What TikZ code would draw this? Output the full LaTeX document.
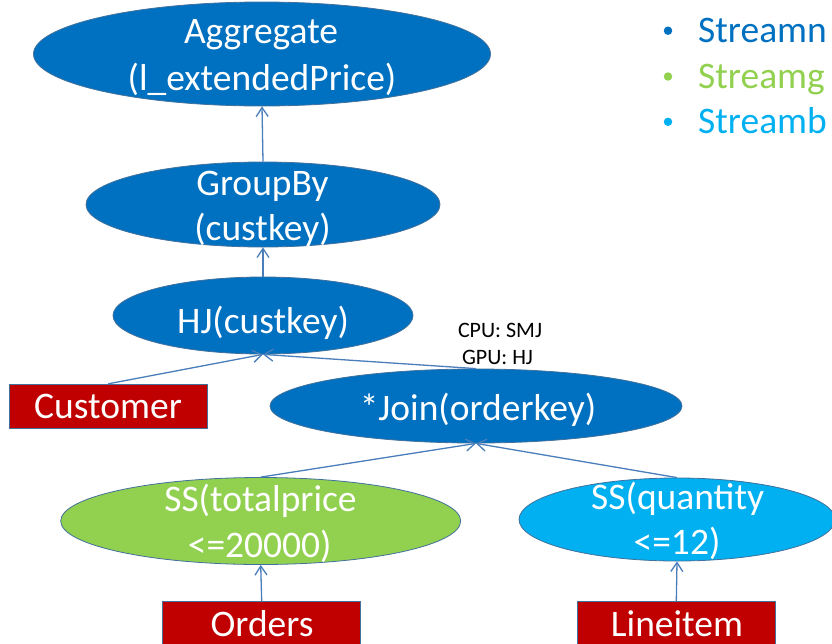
\documentclass[tikz,border=0pt]{standalone}
\usepackage{fontspec}
\setmainfont{Carlito}
\usetikzlibrary{shapes.geometric,arrows.meta}
\definecolor{dblue}{HTML}{0070C0}
\definecolor{lgreen}{HTML}{92D050}
\definecolor{lblue}{HTML}{00B0F0}
\definecolor{dred}{HTML}{C00000}
\definecolor{outl}{HTML}{41719C}
\definecolor{conncol}{HTML}{4A7EBB}
\begin{document}
\begin{tikzpicture}[x=1pt,y=-1pt,
  ell/.style={ellipse, draw=outl, line width=0.8pt, inner sep=0pt},
  box/.style={rectangle, draw=outl, line width=1pt, fill=dred, inner sep=0pt,
              minimum width=198pt, minimum height=44.4pt},
  lbl/.style={text=white, font=\fontsize{37.5}{45}\selectfont, anchor=base, inner sep=0pt},
  small/.style={text=black, font=\fontsize{22}{26}\selectfont, anchor=base, inner sep=0pt},
  leg/.style={font=\fontsize{37.5}{45}\selectfont, anchor=base west, inner sep=0pt},
  dot/.style={circle, inner sep=0pt, minimum size=8.5pt},
  conn/.style={draw=conncol, line width=1.3pt, -{Straight Barb[length=9pt,width=12pt]}}]
\useasboundingbox (0,0) rectangle (832,643);
\clip (0,0) rectangle (832,643);
% shapes
\node[ell, fill=dblue, minimum width=457pt, minimum height=104pt] (agg) at (262,54) {};
\node[ell, fill=dblue, minimum width=354pt, minimum height=85pt] (grp) at (263,204.5) {};
\node[ell, fill=dblue, minimum width=300pt, minimum height=77pt] (hj) at (263,315.5) {};
\node[ell, fill=dblue, minimum width=412pt, minimum height=74pt] (join) at (476,406) {};
\node[ell, fill=lgreen, minimum width=400pt, minimum height=87pt] (ssg) at (260.7,521) {};
\node[ell, fill=lblue, minimum width=316pt, minimum height=83pt] (ssb) at (677,519.5) {};
\node[box] (cust) at (108.3,406.5) {};
\node[box] (ord) at (261.7,624) {};
\node[box] (line) at (676.3,624) {};
% labels
\node[lbl] (aggA) at (261,43.3) {Aggregate};
\node[lbl] (aggB) at (262,90.7) {(l\_extendedPrice)};
\node[lbl] (grpA) at (262.5,195) {GroupBy};
\node[lbl] (grpB) at (262.5,240) {(custkey)};
\node[lbl] (hjA) at (263,333) {HJ(custkey)};
\node[lbl] (joinA) at (478,420) {*Join(orderkey)};
\node[lbl] (custA) at (108,418.3) {Customer};
\node[lbl] (ssgA) at (260.5,511) {SS(totalprice};
\node[lbl] (ssgB) at (259.7,557.7) {<=20000)};
\node[lbl] (ssbA) at (677.7,509) {SS(quantity};
\node[lbl] (ssbB) at (677,554) {<=12)};
\node[lbl] (ordA) at (262,636) {Orders};
\node[lbl] (lineA) at (677,636) {Lineitem};
\node[small] (cpu) at (500,337.7) {CPU: SMJ};
\node[small] (gpu) at (497.5,364.5) {GPU: HJ};
% legend
\node[dot, fill=dblue] (d1) at (668,30.7) {};
\node[dot, fill=lgreen] (d2) at (668,76.5) {};
\node[dot, fill=lblue] (d3) at (668,121.8) {};
\node[leg, text=dblue] (l1) at (698,42.7) {Streamn};
\node[leg, text=lgreen] (l2) at (698,88) {Streamg};
\node[leg, text=lblue] (l3) at (698,133.3) {Streamb};
% connectors
\draw[conn] (grp.north) -- (agg.south);
\draw[conn] (hj.north) -- (grp.south);
\draw[conn] (cust.north) -- (hj.south);
\draw[conn] (join.north) -- (hj.south);
\draw[conn] (ssg.north) -- (join.south);
\draw[conn] (ssb.north) -- (join.south);
\draw[conn] (ord.north) -- (ssg.south);
\draw[conn] (line.north) -- (ssb.south);
\end{tikzpicture}
\end{document}
